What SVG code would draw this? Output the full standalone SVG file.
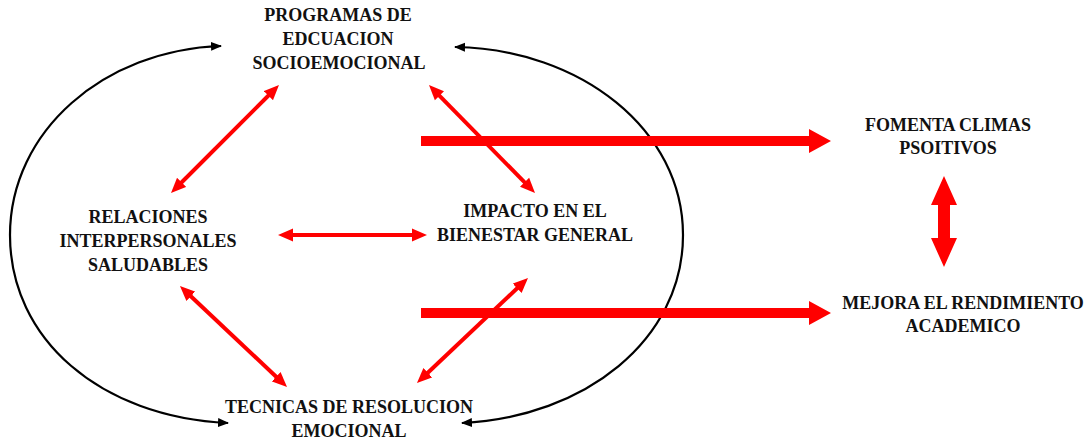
<svg xmlns="http://www.w3.org/2000/svg" width="1089" height="441" viewBox="0 0 1089 441">
  <style>
    .lbl { font-family: "Liberation Serif", "Times New Roman", serif; font-weight: bold; font-size: 18px; fill: #111; text-anchor: middle; }
    .thin { stroke: #ff0000; stroke-width: 4; fill: none; marker-start: url(#ra); marker-end: url(#ra); }
    .arc { stroke: #000; stroke-width: 2.2; fill: none; marker-start: url(#ba); marker-end: url(#ba); }
    .big { fill: #ff0000; }
  </style>
  <defs>
    <marker id="ra" markerUnits="userSpaceOnUse" markerWidth="16" markerHeight="14" viewBox="0 -7 16 14" refX="3" refY="0" orient="auto-start-reverse">
      <path d="M0,-6.5 L15,0 L0,6.5 z" fill="#ff0000"/>
    </marker>
    <marker id="ba" markerUnits="userSpaceOnUse" markerWidth="12" markerHeight="10" viewBox="0 -5 12 10" refX="10" refY="0" orient="auto-start-reverse">
      <path d="M0,-4.5 L11,0 L0,4.5 z" fill="#000"/>
    </marker>
  </defs>
  <rect width="1089" height="441" fill="#fff"/>

  <g id="connectors">
    <path class="arc" d="M 221 46 C 104 50, 10 131, 10 235 C 10 339, 100 417, 228 423"/>
    <path class="arc" d="M 455 47 C 581 49, 683 130, 683 235 C 683 340, 585 417, 462 423"/>
    <line class="thin" x1="270.5" y1="93.5" x2="179.5" y2="184.5"/>
    <line class="thin" x1="437.4" y1="93.6" x2="526.6" y2="184.4"/>
    <line class="thin" x1="290" y1="235" x2="415" y2="235"/>
    <line class="thin" x1="188.7" y1="294.2" x2="278.3" y2="378.8"/>
    <line class="thin" x1="519.3" y1="286.2" x2="425.7" y2="374.8"/>
    <polygon class="big" points="421,136 809,136 809,129 831,141 809,153 809,146 421,146"/>
    <polygon class="big" points="421,308 809,308 809,301 831,313 809,325 809,318 421,318"/>
    <polygon class="big" points="944,176 957,205 950,205 950,238 957,238 944,267 931,238 938,238 938,205 931,205"/>
  </g>

  <g id="programas">
    <text class="lbl" x="338" y="21">PROGRAMAS DE</text>
    <text class="lbl" x="338" y="45">EDCUACION</text>
    <text class="lbl" x="339" y="69">SOCIOEMOCIONAL</text>
  </g>
  <g id="relaciones">
    <text class="lbl" x="148" y="223">RELACIONES</text>
    <text class="lbl" x="148" y="247">INTERPERSONALES</text>
    <text class="lbl" x="148" y="271">SALUDABLES</text>
  </g>
  <g id="impacto">
    <text class="lbl" x="535" y="217">IMPACTO EN EL</text>
    <text class="lbl" x="535" y="241">BIENESTAR GENERAL</text>
  </g>
  <g id="tecnicas">
    <text class="lbl" x="349" y="413">TECNICAS DE RESOLUCION</text>
    <text class="lbl" x="349" y="437">EMOCIONAL</text>
  </g>
  <g id="fomenta">
    <text class="lbl" x="948" y="131">FOMENTA CLIMAS</text>
    <text class="lbl" x="948" y="154">PSOITIVOS</text>
  </g>
  <g id="mejora">
    <text class="lbl" x="963" y="309">MEJORA EL RENDIMIENTO</text>
    <text class="lbl" x="963" y="332">ACADEMICO</text>
  </g>
</svg>
